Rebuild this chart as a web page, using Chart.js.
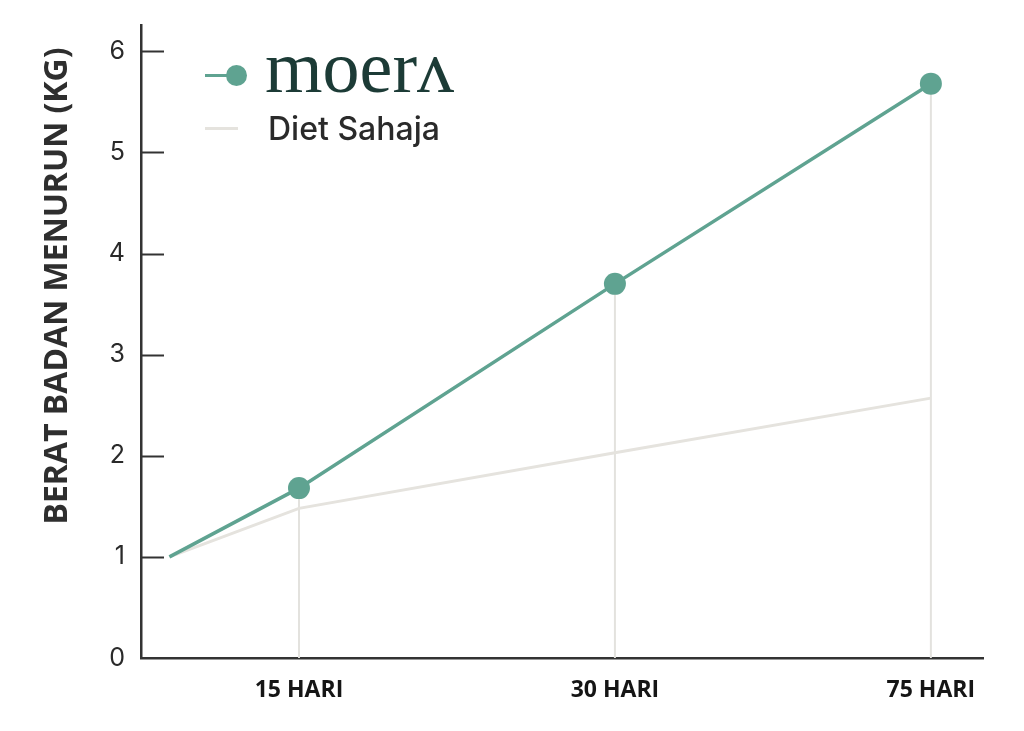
<!DOCTYPE html>
<html lang="ms">
<head>
	<meta charset="UTF-8">
	<title>berat badan menurun</title>
	<script src="https://cdn.jsdelivr.net/npm/chart.js@4/dist/chart.umd.min.js"></script>
	<style>
		body { margin:0; background:#fff; }
		#wrap { position:relative; width:1024px; height:731px; }
		#legend .mark { position:absolute; }
		#legend .txt { position:absolute; white-space:nowrap; }
	</style>
</head>
<body>
	<div id="wrap">
		<canvas id="chart" width="1024" height="731"></canvas>
		<div id="legend">
			<div class="mark" style="left:205px;top:74px;width:30px;height:3px;background:#5fa391"></div>
			<div class="mark" style="left:226px;top:65px;width:21px;height:21px;border-radius:50%;background:#5fa391"></div>
			<div class="txt" style="left:265px;top:30px;font:74px/74px 'Liberation Serif',serif;color:#1c3b36">moerʌ</div>
			<div class="mark" style="left:205px;top:127px;width:33px;height:3px;background:#e5e3de"></div>
			<div class="txt" style="left:268px;top:112px;font:500 32px/33px Inter,sans-serif;color:#2a2a2a">Diet Sahaja</div>
		</div>
	</div>

	<script>

		// data
		var xLabels=["15 HARI","30 HARI","75 HARI"];
		var xValues=[0.59,1,2,3];
		var moeraValues=[1,1.68,3.70,5.68];
		var dietValues=[1,1.48,2.03,2.57];
		var yTicks=[0,1,2,3,4,5,6];
		var yTitle="BERAT BADAN MENURUN (KG)";

		var GREEN="#5fa391",
			GREY="#e5e3de",
			INK="#2e2e2e";

		function points(values){
			return values.map(function(v,i){
				return {x:xValues[i],y:v};
			});
		}

		var decor={
			id:"decor",
			beforeDatasetsDraw:function(chart){
				var ctx=chart.ctx,
					xs=chart.scales.x,
					ys=chart.scales.y,
					bottom=chart.chartArea.bottom;
				ctx.save();
				ctx.strokeStyle="#e3e2de";
				ctx.lineWidth=2;
				for(var i=1;i<xValues.length;i++) {
					var px=xs.getPixelForValue(xValues[i]);
					ctx.beginPath();
					ctx.moveTo(px,ys.getPixelForValue(moeraValues[i]));
					ctx.lineTo(px,bottom);
					ctx.stroke();
				}
				ctx.restore();
			},
			afterDraw:function(chart){
				var ctx=chart.ctx,
					ys=chart.scales.y,
					left=chart.chartArea.left;
				ctx.save();
				// small ticks pointing inwards
				ctx.strokeStyle="#333";
				ctx.lineWidth=2;
				yTicks.forEach(function(t){
					if(t===0) return;
					var py=Math.round(ys.getPixelForValue(t))+0.5;
					ctx.beginPath();
					ctx.moveTo(left,py);
					ctx.lineTo(left+23,py);
					ctx.stroke();
				});
				// axis title
				ctx.translate(58,286);
				ctx.rotate(-Math.PI/2);
				ctx.fillStyle=INK;
				ctx.font="bold 32px 'Open Sans', sans-serif";
				ctx.textAlign="center";
				ctx.textBaseline="middle";
				ctx.fillText(yTitle,0,0);
				ctx.restore();
			}
		};

		new Chart(document.getElementById("chart"),{
			type:"line",
			data:{
				datasets:[{
					label:"moera",
					data:points(moeraValues),
					borderColor:GREEN,
					backgroundColor:GREEN,
					borderWidth:3.5,
					pointRadius:[0,11,11,11],
					pointBorderWidth:0,
					pointBackgroundColor:GREEN,
					tension:0
				},{
					label:"Diet Sahaja",
					data:points(dietValues),
					borderColor:GREY,
					borderWidth:3,
					pointRadius:0,
					tension:0
				}]
			},
			options:{
				responsive:false,
				animation:false,
				events:[],
				layout:{padding:{top:25,right:41,left:0,bottom:0}},
				plugins:{legend:{display:false},tooltip:{enabled:false}},
				scales:{
					x:{
						type:"linear",
						min:0.5,
						max:3.165,
						grid:{display:false,drawTicks:false},
						border:{display:true,color:"#333",width:2.5},
						afterBuildTicks:function(scale){
							scale.ticks=xLabels.map(function(l,i){ return {value:i+1}; });
						},
						afterFit:function(scale){ scale.height=73; },
						ticks:{
							autoSkip:false,
							maxRotation:0,
							padding:19,
							color:"#151515",
							font:{family:"'Open Sans', sans-serif",size:23,weight:"bold"},
							callback:function(v){ return xLabels[v-1]; }
						}
					},
					y:{
						min:0,
						max:6.26,
						grid:{display:false,drawTicks:false},
						border:{display:true,color:"#333",width:2.5},
						afterBuildTicks:function(scale){
							scale.ticks=yTicks.map(function(t){ return {value:t}; });
						},
						afterFit:function(scale){
							scale.width=141;
							scale.paddingTop=0;
							scale.paddingBottom=0;
						},
						ticks:{
							padding:16,
							color:"#2a2a2a",
							font:{family:"Inter, sans-serif",size:25}
						}
					}
				}
			},
			plugins:[decor]
		});

	</script>
</body>
</html>
